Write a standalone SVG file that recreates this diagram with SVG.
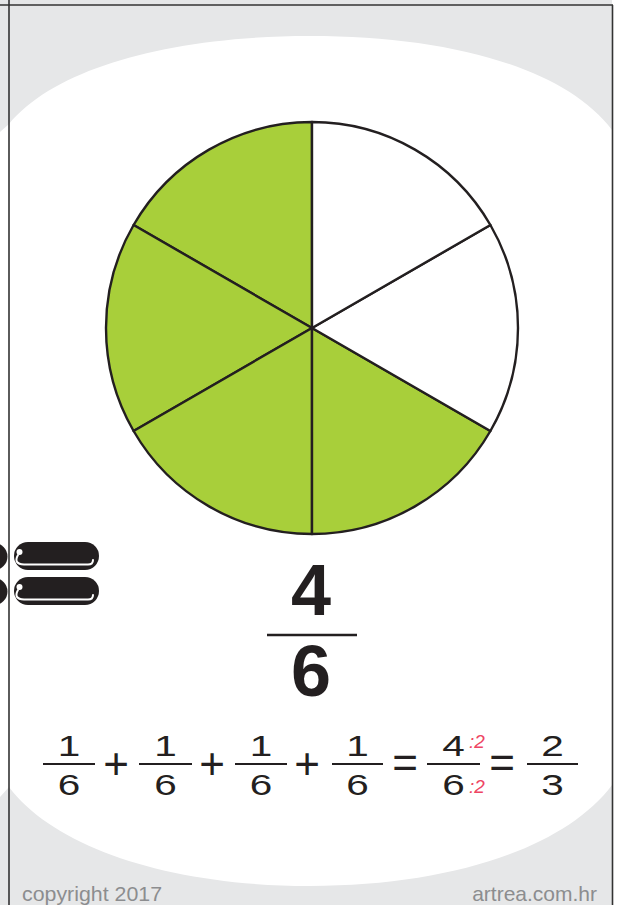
<svg xmlns="http://www.w3.org/2000/svg" width="617" height="905" viewBox="0 0 617 905">
<style>
.frame{stroke:#333333;stroke-width:1.6;fill:none}
.slice{stroke:#231f20;stroke-width:2.4;stroke-linejoin:round}
.g{fill:#a8cf3a}
.w{fill:#ffffff}
.num{font-family:"Liberation Sans",Arial,sans-serif;fill:#231f20;text-anchor:middle}
.big{font-size:72px;font-weight:bold}
.sm{font-size:30px}
.op{font-size:44px}
.red{font-family:"Liberation Sans",Arial,sans-serif;font-size:19px;font-style:italic;fill:#ee4563}
.bar{stroke:#231f20;stroke-width:2}
.foot{font-family:"Liberation Sans",Arial,sans-serif;font-size:21px;fill:#8c8d8f}
.ring{fill:#231f20}
.hook{fill:none;stroke:#ffffff;stroke-width:2;stroke-linecap:round}
</style>
<g id="background">
<rect x="0" y="0" width="617" height="905" fill="#e6e7e8"/>
<rect x="612" y="0" width="5" height="905" fill="#ffffff"/>
<path d="M0,132 L9,124 C55,68 170,36 310,36 C450,36 565,68 612,130 L617,130 L617,785 L612,785 C565,848 450,886 310,886 C170,886 55,848 9,787 L0,797 Z" fill="#ffffff"/>
</g>
<g id="frame">
<line class="frame" x1="0" y1="5" x2="613" y2="5"/>
<line class="frame" x1="9" y1="0" x2="9" y2="905"/>
<line class="frame" x1="612.5" y1="5" x2="612.5" y2="905"/>
</g>
<g id="pie">
<path class="slice g" d="M312,328 L312,122 A206,206 0 0 0 133.6,225 Z"/>
<path class="slice g" d="M312,328 L133.6,225 A206,206 0 0 0 133.6,431 Z"/>
<path class="slice g" d="M312,328 L133.6,431 A206,206 0 0 0 312,534 Z"/>
<path class="slice g" d="M312,328 L312,534 A206,206 0 0 0 490.4,431 Z"/>
<path class="slice w" d="M312,328 L490.4,431 A206,206 0 0 0 490.4,225 Z"/>
<path class="slice w" d="M312,328 L490.4,225 A206,206 0 0 0 312,122 Z"/>
</g>
<g id="rings">
<g id="ring1">
<circle class="ring" cx="-6" cy="556.5" r="13.5"/>
<rect class="ring" x="14" y="542" width="85" height="28" rx="14"/>
<circle cx="19.5" cy="552" r="3" fill="#ffffff"/>
<path class="hook" d="M18,555 Q13,564 24,564.5 L88,564.5 Q93,564.5 93,560"/>
</g>
<g id="ring2">
<circle class="ring" cx="-6" cy="591.5" r="13.5"/>
<rect class="ring" x="14" y="577" width="85" height="28" rx="14"/>
<circle cx="19.5" cy="587" r="3" fill="#ffffff"/>
<path class="hook" d="M18,590 Q13,599 24,599.5 L88,599.5 Q93,599.5 93,595"/>
</g>
</g>
<g id="big-fraction">
<text class="num big" x="311" y="615">4</text>
<line x1="267" y1="635" x2="357" y2="635" stroke="#231f20" stroke-width="2.6"/>
<text class="num big" x="311" y="696">6</text>
</g>
<g id="equation">
<g id="f1"><text class="num sm" transform="translate(69,0) scale(1.35,1)" y="756">1</text><line class="bar" x1="43" y1="764" x2="95" y2="764"/><text class="num sm" transform="translate(69,0) scale(1.35,1)" y="795">6</text></g>
<text class="num op" x="116" y="779">+</text>
<g id="f2"><text class="num sm" transform="translate(165.5,0) scale(1.35,1)" y="756">1</text><line class="bar" x1="139" y1="764" x2="192" y2="764"/><text class="num sm" transform="translate(165.5,0) scale(1.35,1)" y="795">6</text></g>
<text class="num op" x="212" y="779">+</text>
<g id="f3"><text class="num sm" transform="translate(261,0) scale(1.35,1)" y="756">1</text><line class="bar" x1="235" y1="764" x2="287" y2="764"/><text class="num sm" transform="translate(261,0) scale(1.35,1)" y="795">6</text></g>
<text class="num op" x="307" y="779">+</text>
<g id="f4"><text class="num sm" transform="translate(357.5,0) scale(1.35,1)" y="756">1</text><line class="bar" x1="332" y1="764" x2="383" y2="764"/><text class="num sm" transform="translate(357.5,0) scale(1.35,1)" y="795">6</text></g>
<text class="num op" x="405" y="778">=</text>
<g id="f5"><text class="num sm" transform="translate(453.5,0) scale(1.35,1)" y="756">4</text><line class="bar" x1="427" y1="764" x2="480" y2="764"/><text class="num sm" transform="translate(453.5,0) scale(1.35,1)" y="795">6</text>
<text class="red" x="469" y="748">:2</text><text class="red" x="469" y="793">:2</text></g>
<text class="num op" x="502" y="778">=</text>
<g id="f6"><text class="num sm" transform="translate(552.5,0) scale(1.35,1)" y="756">2</text><line class="bar" x1="527" y1="764" x2="578" y2="764"/><text class="num sm" transform="translate(552.5,0) scale(1.35,1)" y="795">3</text></g>
</g>
<g id="footer">
<text class="foot" x="22" y="901" textLength="140" lengthAdjust="spacingAndGlyphs">copyright 2017</text>
<text class="foot" x="597" y="901" text-anchor="end">artrea.com.hr</text>
</g>
</svg>
